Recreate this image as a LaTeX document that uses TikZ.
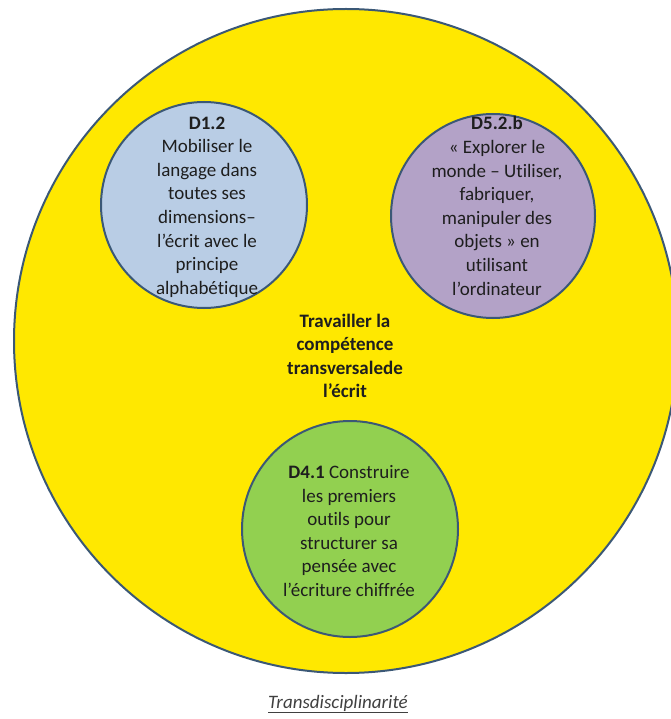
\documentclass[tikz,border=0pt]{standalone}
\usepackage{fontspec}
\setmainfont{Carlito}[Ligatures=NoCommon]
\usepackage{tikz}

\definecolor{fondjaune}{HTML}{FFE800}
\definecolor{bleuclair}{HTML}{B9CDE5}
\definecolor{violet}{HTML}{B3A2C7}
\definecolor{vertclair}{HTML}{92D050}
\definecolor{contour}{HTML}{3B5876}
\definecolor{texte}{HTML}{1E1E1E}

\begin{document}
\begin{tikzpicture}[x=1pt,y=-1pt]
\useasboundingbox (0,0) rectangle (670,719);

\begin{scope}[every node/.style={circle,draw=contour,line width=2pt,inner sep=0pt}]
    \node[fill=fondjaune,minimum size=664pt] (monde) at (346,341) {};
    \node[fill=bleuclair,minimum size=206pt] (d12) at (204,205) {};
    \node[fill=violet,minimum size=204pt] (d52b) at (493,216) {};
    \node[fill=vertclair,minimum size=216pt] (d41) at (350,529) {};
\end{scope}

\begin{scope}[every node/.style={align=center,text=texte,inner sep=0pt,
              font=\fontsize{19}{23.6}\selectfont}]
    \node (t12) at (207,207) {\textbf{D1.2}\\Mobiliser le\\langage dans\\toutes ses\\dimensions–\\l’écrit avec le\\principe\\alphabétique};
    \node (t52b) at (497,206) {\textbf{D5.2.b}\\« Explorer le\\monde – Utiliser,\\fabriquer,\\manipuler des\\objets » en\\utilisant\\l’ordinateur};
    \node (t41) at (349,531) {\textbf{D4.1} Construire\\les premiers\\outils pour\\structurer sa\\pensée avec\\l’écriture chiffrée};
    \node[font=\bfseries\fontsize{19}{23.4}\selectfont] (centre) at (345,356) {Travailler la\\compétence\\transversalede\\l'écrit};
    \node[text=texte!85] (titre) at (338,704) {\underline{\textit{Transdisciplinarité}}};
\end{scope}
\end{tikzpicture}
\end{document}
